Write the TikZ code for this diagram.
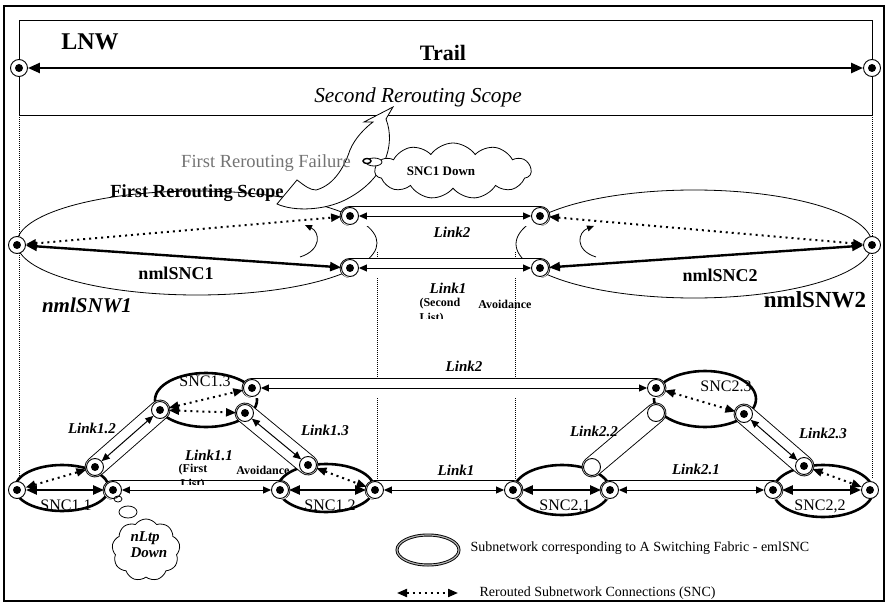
\documentclass[tikz,border=0pt]{standalone}
\usepackage{fontspec}
\setmainfont{Liberation Serif}
\usetikzlibrary{arrows.meta,shapes.geometric,shapes.symbols}
\newcommand{\myfs}[1]{\fontsize{#1}{#1}\selectfont}
\begin{document}
\begin{tikzpicture}[x=1pt,y=-1pt,
  ep/.style={circle,draw,line width=0.9pt,fill=white,minimum size=17pt,inner sep=0pt,
     path picture={\fill[black] (path picture bounding box.center) circle (4pt);}},
  hep/.style={circle,draw,line width=0.9pt,fill=white,minimum size=17pt,inner sep=0pt},
  linkbar/.style={line width=0.9pt,double=white,double distance=19pt,line cap=round},
  innerl/.style={line width=1pt,>={Triangle[length=8pt,width=7pt]},<->},
  sncl/.style={line width=2.4pt,>={Triangle[length=11pt,width=9pt]},<->},
  rr/.style={line width=2pt,dash pattern=on 2pt off 4pt,>={Triangle[length=10pt,width=8pt]},<->},
  vdot/.style={line width=0.6pt,dash pattern=on 0.8pt off 1.2pt},
  sncell/.style={draw,ellipse,line width=2.6pt,inner sep=0pt},
  lnk/.style={font=\myfs{15}\bfseries\itshape},
  snclab/.style={font=\myfs{16}},
  small/.style={font=\myfs{12}\bfseries}
]
\useasboundingbox (0,0) rectangle (886,607);
% frames
\draw[line width=2pt] (4,6) rectangle (884,601);
\draw[line width=0.8pt] (19,20) rectangle (872,115);
% dotted verticals
\draw[vdot] (19,115) -- (19,478);
\draw[vdot] (872,115) -- (872,478);
\draw[vdot] (377,252) -- (377,480);
\draw[vdot] (515,252) -- (515,480);

% trail
\node[ep] (T1) at (19,68) {};
\node[ep] (T2) at (872,68) {};
\draw[line width=2.4pt,>={Triangle[length=12pt,width=10pt]},<->] (T1) -- (T2);
\node[font=\myfs{24}\bfseries] (lnw) at (90,42) {LNW};
\node[font=\myfs{22}\bfseries] (trail) at (443,53) {Trail};
\node[font=\myfs{21.3}\itshape] (srs) at (418,97) {Second Rerouting Scope};

% upper subnetworks
\node[draw,ellipse,line width=0.8pt,minimum width=360pt,minimum height=104pt] (nsw1) at (197,243) {};
\node[draw,ellipse,line width=0.8pt,minimum width=356pt,minimum height=108pt] (nsw2) at (694,244) {};

% lower emlSNC ellipses
\node[snclab] (l11) at (66,505) {SNC1.1};
\node[snclab] (l12) at (330,505) {SNC1.2};
\node[snclab] (l13) at (205,381) {SNC1.3};
\node[snclab] (l21) at (565,506) {SNC2,1};
\node[snclab] (l22) at (820,506) {SNC2,2};
\node[snclab] (l23) at (726,386) {SNC2.3};
\node[sncell,minimum width=94pt,minimum height=46pt] (e11) at (62,488) {};
\node[sncell,minimum width=102pt,minimum height=54pt] (e13) at (206,400) {};
\node[sncell,minimum width=96pt,minimum height=48pt] (e12) at (326,488) {};
\node[sncell,minimum width=96pt,minimum height=50pt] (e21) at (562,490) {};
\node[sncell,minimum width=102pt,minimum height=56pt] (e23) at (705,399) {};
\node[sncell,minimum width=100pt,minimum height=52pt] (e22) at (823,491) {};

% endpoint coordinates
\coordinate (a1) at (17,245);
\coordinate (a2) at (350,216);
\coordinate (a3) at (350,268);
\coordinate (a4) at (540,216);
\coordinate (a5) at (540,268);
\coordinate (a6) at (872,245);
\coordinate (b11L) at (17,490);
\coordinate (b11R) at (113,490);
\coordinate (b11T) at (95,467);
\coordinate (b13L) at (160,410);
\coordinate (b13R) at (252,388);
\coordinate (b13B) at (245,413);
\coordinate (b12L) at (280,490);
\coordinate (b12T) at (308,465);
\coordinate (b12R) at (375,490);
\coordinate (b21L) at (513,490);
\coordinate (b21R) at (610,490);
\coordinate (b21T) at (592,467);
\coordinate (b23L) at (656,388);
\coordinate (b23B) at (656,413);
\coordinate (b23R) at (744,414);
\coordinate (b22L) at (773,490);
\coordinate (b22T) at (804,466);
\coordinate (b22R) at (870,490);

% link bars
\draw[linkbar] (a2) -- (a4);
\draw[linkbar] (a3) -- (a5);
\draw[linkbar] (b11R) -- (b12L);
\draw[linkbar] (b12R) -- (b21L);
\draw[linkbar] (b21R) -- (b22L);
\draw[linkbar] (b11T) -- (b13L);
\draw[linkbar] (b13B) -- (b12T);
\draw[linkbar] (b13R) -- (b23L);
\draw[linkbar] (b21T) -- (b23B);
\draw[linkbar] (b23R) -- (b22T);

% endpoint circles
\foreach \n in {a1,a2,a3,a4,a5,a6,b11L,b11R,b11T,b13L,b13R,b13B,b12L,b12T,b12R,b21L,b21R,b23L,b23R,b22L,b22T,b22R}
  \node[ep] (N\n) at (\n) {};
\node[hep] (Nb21T) at (b21T) {};
\node[hep] (Nb23B) at (b23B) {};

% link inner connections
\draw[innerl] (Na2) -- (Na4);
\draw[innerl] (Na3) -- (Na5);
\draw[innerl] (Nb11R) -- (Nb12L);
\draw[innerl] (Nb12R) -- (Nb21L);
\draw[innerl] (Nb21R) -- (Nb22L);
\draw[innerl] (Nb11T) -- (Nb13L);
\draw[innerl] (Nb13B) -- (Nb12T);
\draw[innerl] (Nb13R) -- (Nb23L);
\draw[innerl] (Nb23R) -- (Nb22T);

% subnetwork connections
\draw[sncl] (Na1) -- (Na3);
\draw[sncl] (Na5) -- (Na6);
\draw[rr] (Na1) -- (Na2);
\draw[rr] (Na4) -- (Na6);
\draw[sncl] (Nb11L) -- (Nb11R);
\draw[sncl] (Nb12L) -- (Nb12R);
\draw[sncl] (Nb21L) -- (Nb21R);
\draw[sncl] (Nb22L) -- (Nb22R);
\draw[rr] (Nb11L) -- (Nb11T);
\draw[rr] (Nb13L) -- (Nb13R);
\draw[rr] (Nb13L) -- (Nb13B);
\draw[rr] (Nb12T) -- (Nb12R);
\draw[rr] (Nb23L) -- (Nb23R);
\draw[rr] (Nb22T) -- (Nb22R);

% small curved arrows
\draw[line width=0.8pt,-{Triangle[length=7pt,width=6pt]}] (300,257) .. controls (322,250) and (320,232) .. (305,225);
\draw[line width=0.8pt,-{Triangle[length=7pt,width=6pt]}] (596,257) .. controls (574,250) and (578,232) .. (594,226);

% upper labels
\node[font=\myfs{18}\bfseries] (lsnc1) at (176,273) {nmlSNC1};
\node[font=\myfs{18}\bfseries] (lsnc2) at (720,275) {nmlSNC2};
\node[font=\myfs{21}\bfseries\itshape] (lsnw1) at (87,305) {nmlSNW1};
\node[font=\myfs{23}\bfseries] (lsnw2) at (815,300) {nmlSNW2};
\node[lnk] (ul2) at (452,232) {Link2};
\node[lnk] (ul1) at (448,288) {Link1};
\node[small,anchor=west] (sec) at (416,304) {(Second};
\node[small,anchor=east] (av1) at (535,304) {Avoidance};
\begin{scope}
\clip (410,311) rectangle (470,318);
\node[small,anchor=west] (lst1) at (416,319) {List)};
\end{scope}

% lower labels
\node[lnk] (ll2) at (464,366) {Link2};
\node[lnk] (ll1) at (456,470) {Link1};
\node[lnk] (ll11) at (209,455) {Link1.1};
\node[small] (fst) at (193,470) {(First};
\node[small] (av2) at (263,470) {Avoidance};
\begin{scope}
\clip (170,477) rectangle (230,484);
\node[small,anchor=west] (lst2) at (177,485) {List)};
\end{scope}
\node[lnk] (ll12) at (92,428) {Link1.2};
\node[lnk] (ll13) at (325,430) {Link1.3};
\node[lnk] (ll22) at (594,431) {Link2.2};
\node[lnk] (ll21) at (696,469) {Link2.1};
\node[lnk] (ll23) at (823,433) {Link2.3};

% big hollow curved arrow
\draw[line width=0.8pt,fill=white] (277,204) -- (297,180) .. controls (305,186) and (310,190) .. (316,190)
  .. controls (335,185) and (345,165) .. (350,150) .. controls (355,138) and (365,128) .. (373,122)
  -- (364,122) -- (393,107) -- (386,119) .. controls (396,145) and (385,180) .. (345,200)
  .. controls (325,210) and (295,212) .. (277,204) -- cycle;
\node[font=\myfs{18.5}\bfseries] (frs) at (197,193) {First Rerouting Scope};
\node[font=\myfs{18.5},text=black!55] (frf) at (266,163) {First Rerouting Failure};

% clouds
\node[cloud,draw,line width=0.8pt,cloud puffs=11,cloud puff arc=110,cloud ignores aspect,
      minimum width=156pt,minimum height=56pt,fill=white] (cl1) at (453,171) {};
\node[font=\myfs{13}\bfseries] (cl1t) at (441,171) {SNC1 Down};
\draw[line width=0.8pt,fill=white] (374,162) ellipse (8pt and 4pt);
\draw[line width=1.4pt,fill=white] (367,161) ellipse (4pt and 2.5pt);
\node[cloud,draw,line width=0.8pt,cloud puffs=9,cloud puff arc=110,cloud ignores aspect,
      minimum width=68pt,minimum height=62pt] (cl2) at (146,550) {};
\node[font=\myfs{15}\bfseries\itshape,align=left,anchor=west] (cl2t) at (127,545) {nLtp\\[1pt]Down};
\draw[line width=0.8pt] (118,499) ellipse (4pt and 3pt);
\draw[line width=0.8pt] (128,512) ellipse (9pt and 6pt);

% legend
\node[draw,ellipse,line width=0.9pt,double=gray!60,double distance=1.2pt,minimum width=62pt,minimum height=30pt] (leg) at (428,550) {};
\node[anchor=west,font=\myfs{14}] (legt) at (467,548) {Subnetwork corresponding to A Switching Fabric - emlSNC};
\coordinate (lg1) at (397,593);
\coordinate (lg2) at (458,593);
\draw[rr] (lg1) -- (lg2);
\node[anchor=west,font=\myfs{14}] (legt2) at (476,593) {Rerouted Subnetwork Connections (SNC)};
\end{tikzpicture}
\end{document}
